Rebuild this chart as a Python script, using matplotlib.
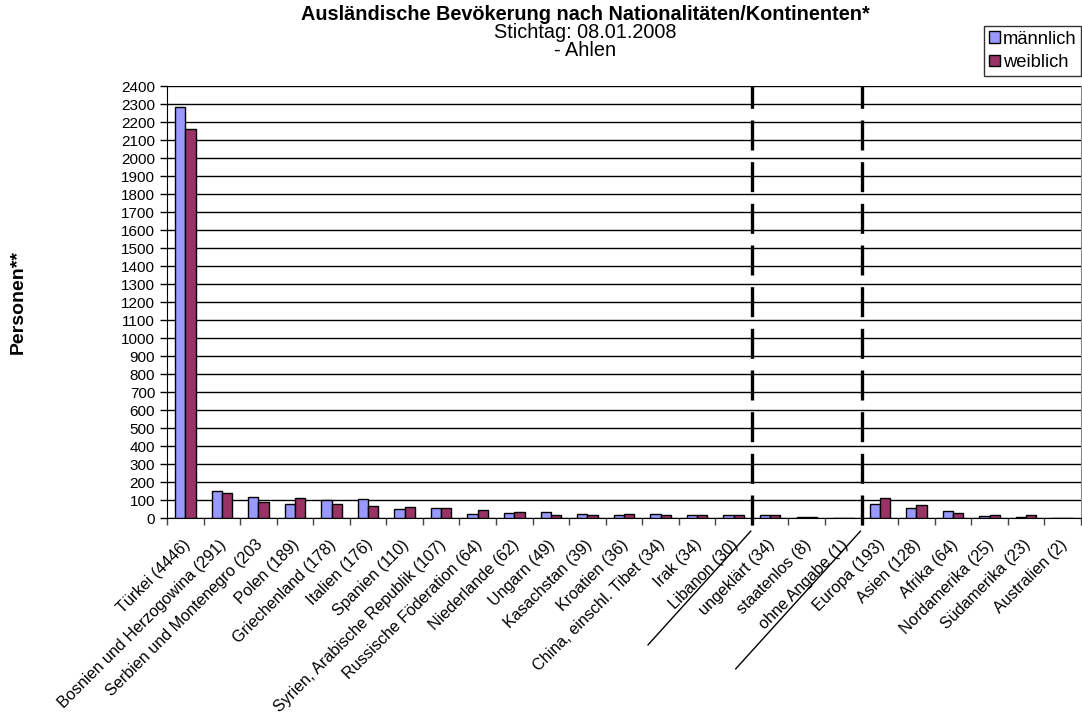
import numpy as np
import matplotlib
matplotlib.use("Agg")
import matplotlib.pyplot as plt
import matplotlib.transforms as mtransforms

plt.rcParams['font.family'] = ['Liberation Sans', 'DejaVu Sans']

categories = ['Türkei (4446)', 'Bosnien und Herzogowina (291)', 'Serbien und Montenegro (203',
              'Polen (189)', 'Griechenland (178)', 'Italien (176)', 'Spanien (110)',
              'Syrien, Arabische Republik (107)', 'Russische Föderation (64)', 'Niederlande (62)',
              'Ungarn (49)', 'Kasachstan (39)', 'Kroatien (36)', 'China, einschl. Tibet (34)',
              'Irak (34)', 'Libanon (30)', 'ungeklärt (34)', 'staatenlos (8)', 'ohne Angabe (1)',
              'Europa (193)', 'Asien (128)', 'Afrika (64)', 'Nordamerika (25)', 'Südamerika (23)',
              'Australien (2)']
maennlich = [2283, 151, 115, 78, 98, 108, 48, 54, 22, 30, 34, 22, 15, 20, 19, 15,
             19, 4, 1, 80, 54, 38, 10, 6, 1]
weiblich = [2163, 140, 88, 111, 80, 68, 62, 53, 42, 32, 15, 17, 21, 14, 15, 15,
            15, 4, 0, 113, 74, 26, 15, 17, 1]
separators = [16, 19]  # Grenzen: Staaten | Sonstige | Kontinente

fig = plt.figure(figsize=(10.82, 7.13), dpi=100)
ax = fig.add_axes([167/1082, 1 - 518/713, 1 - 167/1082 - 0.001, (518 - 86)/713])

x = np.arange(len(categories)) + 0.5
w = 0.28
ax.bar(x - w/2, maennlich, w, color='#9999FF', edgecolor='black', linewidth=1, label='männlich', zorder=3)
ax.bar(x + w/2, weiblich, w, color='#993366', edgecolor='black', linewidth=1, label='weiblich', zorder=3)

ax.set_xlim(0, len(categories))
ax.set_ylim(0, 2400)
ax.set_yticks(np.arange(0, 2401, 100))
ax.yaxis.grid(True, color='black', linewidth=1)
ax.set_axisbelow(True)
ax.tick_params(axis='y', direction='out', length=5, labelsize=11, width=1)

ax.set_xticks(np.arange(0, len(categories) + 1), [])
ax.tick_params(axis='x', which='major', direction='out', length=5, width=1, color='#444444')

# Kategorienbeschriftung, 45 Grad gedreht
lab_off = mtransforms.ScaledTranslation(-3/100, -19/100, fig.dpi_scale_trans)
for xi, name in zip(x, categories):
    ax.text(xi, 0, name, transform=ax.get_xaxis_transform() + lab_off,
            rotation=45, ha='right', va='top', rotation_mode='anchor', fontsize=11.6)

ax.spines['top'].set_visible(False)
ax.spines['right'].set_color('#888888')

diag = {16: ((-1, -13), (-104, -127)), 19: ((-1, -13), (-126, -151))}
for b in separators:
    ax.plot([b, b], [-40, 2400], color='black', lw=2.4, linestyle=(0, (9, 3.5)),
            clip_on=False, zorder=4)
    # diagonale Trennlinie im Beschriftungsbereich
    (sx, sy), (ex, ey) = diag[b]
    t1 = mtransforms.offset_copy(ax.transData, fig, x=sx, y=sy, units='dots')
    t2 = mtransforms.offset_copy(ax.transData, fig, x=ex, y=ey, units='dots')
    ax.annotate('', xy=(b, 0), xycoords=t1, xytext=(b, 0), textcoords=t2,
                arrowprops=dict(arrowstyle='-', color='black', lw=1, shrinkA=0, shrinkB=0),
                annotation_clip=False)

fig.text(18/1082, 1 - 302/713, 'Personen**', rotation=90, ha='center', va='center',
         fontsize=14, fontweight='bold')

fig.text(585/1082, 1 - 14/713, 'Ausländische Bevökerung nach Nationalitäten/Kontinenten*',
         ha='center', va='center', fontsize=14.3, fontweight='bold')
fig.text(585/1082, 1 - 32/713, 'Stichtag: 08.01.2008', ha='center', va='center', fontsize=14.3)
fig.text(585/1082, 1 - 50/713, '- Ahlen', ha='center', va='center', fontsize=14.3)

leg = fig.legend(loc='upper right', bbox_to_anchor=(1081/1082, 1 - 26/713), fontsize=13.2,
                 handlelength=0.6, handleheight=0.6, handletextpad=0.15, borderpad=0.25,
                 labelspacing=0.35, borderaxespad=0, fancybox=False, frameon=True)
leg.get_frame().set_edgecolor('black')
leg.get_frame().set_linewidth(1)

fig.savefig('out.png', dpi=100)
